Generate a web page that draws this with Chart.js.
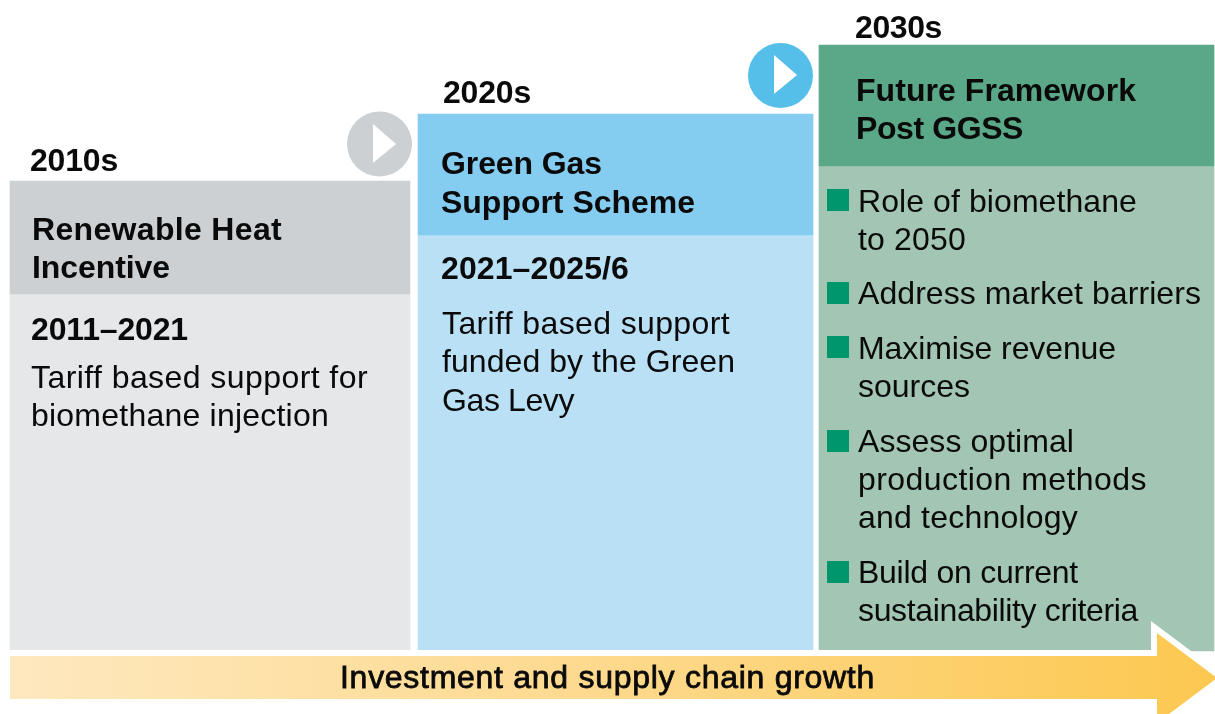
<!DOCTYPE html>
<html>
<head>
<meta charset="utf-8">
<title>Green gas support timeline</title>
<style>
  html, body { margin: 0; padding: 0; background: #fff; }
  canvas { display: block; }
</style>
<script src="https://cdn.jsdelivr.net/npm/chart.js@4/dist/chart.umd.min.js"></script>
</head>
<body>
<canvas id="myChart" width="1215" height="714"></canvas>
<script>
// the chart values, axis units run 0-1215 across and 0-714 down
var decades = ['2010s', '2020s', '2030s'];
var headings = [['Renewable Heat', 'Incentive'], ['Green Gas', 'Support Scheme'], ['Future Framework', 'Post GGSS']];
var periods = ['2011–2021', '2021–2025/6'];
var panelText = [['Tariff based support for', 'biomethane injection'], ['Tariff based support', 'funded by the Green', 'Gas Levy']];
var bullets = [['Role of biomethane', 'to 2050'], ['Address market barriers'], ['Maximise revenue', 'sources'],
  ['Assess optimal', 'production methods', 'and technology'], ['Build on current', 'sustainability criteria']];
var arrowLabel = 'Investment and supply chain growth';

var panelStart = [10, 418, 819];
var panelEnd = [410, 813, 1214];
var headerTop = [181, 114, 45];
var headerBottom = [294, 235, 166];
var panelBottom = [651, 651, 651];
var bulletY = [200, 293, 347, 441, 572];
var circleX = [379.5, 780.5];
var circleY = [144, 75.5];

var headerColors = ['#cdd0d3', '#85cdf0', '#5ba888'];
var bodyColors = ['#e6e7e9', '#bae0f6', '#a2c6b3'];
var circleColors = ['#cdd0d3', '#55bee9'];

var arrowOutline = [
  {x: 10, y: 656}, {x: 1157, y: 656}, {x: 1157, y: 633}, {x: 1217, y: 678},
  {x: 1157, y: 723}, {x: 1157, y: 699}, {x: 10, y: 699}, {x: 10, y: 656}
];
var playOne = [{x: 373, y: 124}, {x: 396, y: 144}, {x: 373, y: 163}, {x: 373, y: 124}];
var playTwo = [{x: 774, y: 55}, {x: 797, y: 75}, {x: 774, y: 94}, {x: 774, y: 55}];

var ctx = document.getElementById('myChart').getContext('2d');

var arrowGradient = ctx.createLinearGradient(10, 0, 1215, 0);
arrowGradient.addColorStop(0, '#fee8bf');
arrowGradient.addColorStop(0.5, '#fdd98c');
arrowGradient.addColorStop(1, '#fcc850');

function shape(points, color, order) {
  return {
    type: 'line', data: points, order: order, fill: 'shape', tension: 0,
    backgroundColor: color, borderWidth: 0, borderColor: color, pointRadius: 0, clip: false
  };
}

var datasets = [];

// lowest order is drawn last, so arrow and play marks come first
datasets.push(shape(arrowOutline, arrowGradient, 1));
var outline = shape(arrowOutline, '#ffffff', 2);
outline.borderWidth = 12;
outline.borderJoinStyle = 'miter';
datasets.push(outline);
datasets.push(shape(playOne, '#ffffff', 3));
datasets.push(shape(playTwo, '#ffffff', 4));

datasets.push({
  type: 'scatter', order: 5, pointStyle: 'circle', pointRadius: 32.5, pointBorderWidth: 0,
  data: circleX.map(function(x, i) { return {x: x, y: circleY[i]}; }),
  pointBackgroundColor: circleColors
});

datasets.push({
  type: 'scatter', order: 6, pointStyle: 'rect', pointRadius: 15.56, pointBorderWidth: 0,
  data: bulletY.map(function(y) { return {x: 838, y: y}; }),
  pointBackgroundColor: '#00966c'
});

decades.forEach(function(d, i) {
  var centre = (panelStart[i] + panelEnd[i]) / 2;
  var width = panelEnd[i] - panelStart[i];
  datasets.push({
    type: 'bar', label: d + ' header', order: 7, barThickness: width, backgroundColor: headerColors[i],
    data: [{x: centre, y: [headerTop[i], headerBottom[i]]}]
  });
  datasets.push({
    type: 'bar', label: d + ' body', order: 8, barThickness: width, backgroundColor: bodyColors[i],
    data: [{x: centre, y: [headerBottom[i], panelBottom[i]]}]
  });
});

// right is where the line ends in the reference, letter spacing is fitted to it
function put(c, chart, text, x, y, bold, right) {
  c.font = (bold ? 'bold ' : '') + '32px "Liberation Sans"';
  c.letterSpacing = '0px';
  var extra = (right - x - c.measureText(text).width) / text.length;
  c.letterSpacing = extra.toFixed(3) + 'px';
  c.fillText(text, chart.scales.x.getPixelForValue(x), chart.scales.y.getPixelForValue(y));
}

function putLines(c, chart, lines, x, ys, bold, rights) {
  lines.forEach(function(line, i) { put(c, chart, line, x, ys[i], bold, rights[i]); });
}

var textPlugin = {
  id: 'diagramText',
  afterDatasetsDraw: function(chart) {
    var c = chart.ctx;
    c.save();
    c.fillStyle = '#0a0a0a';
    c.textBaseline = 'alphabetic';
    c.textAlign = 'left';

    put(c, chart, decades[0], 30, 171, true, 118);
    put(c, chart, decades[1], 443, 103, true, 531);
    put(c, chart, decades[2], 855, 38, true, 942);

    putLines(c, chart, headings[0], 32, [240, 278], true, [282, 170]);
    putLines(c, chart, headings[1], 441, [174, 213], true, [602, 695]);
    putLines(c, chart, headings[2], 856, [101, 139], true, [1136, 1023]);

    put(c, chart, periods[0], 31, 340, true, 188);
    put(c, chart, periods[1], 441, 279, true, 629);

    putLines(c, chart, panelText[0], 31, [388, 426], false, [368, 329]);
    putLines(c, chart, panelText[1], 442, [334, 372, 411], false, [730, 735, 574]);

    putLines(c, chart, bullets[0], 858, [212, 250], false, [1137, 966]);
    putLines(c, chart, bullets[1], 858, [304], false, [1201]);
    putLines(c, chart, bullets[2], 858, [359, 397], false, [1116, 970]);
    putLines(c, chart, bullets[3], 858, [452, 490, 528], false, [1074, 1147, 1078]);
    putLines(c, chart, bullets[4], 858, [583, 621], false, [1078, 1138]);

    // the arrow label is a medium weight, regular with a thin stroke comes closest
    put(c, chart, arrowLabel, 340, 688, false, 875);
    c.strokeStyle = '#0a0a0a';
    c.lineWidth = 0.8;
    c.strokeText(arrowLabel, chart.scales.x.getPixelForValue(340), chart.scales.y.getPixelForValue(688));
    c.restore();
  }
};

var myChart = new Chart(ctx, {
  type: 'bar',
  data: { datasets: datasets },
  plugins: [textPlugin],
  options: {
    responsive: false,
    animation: false,
    layout: { padding: 0, autoPadding: false },
    plugins: { legend: { display: false }, tooltip: { enabled: false } },
    datasets: { bar: { grouped: false } },
    scales: {
      x: { type: 'linear', display: false, min: 0, max: 1215, offset: false },
      y: { type: 'linear', display: false, min: 0, max: 714, reverse: true }
    }
  }
});
</script>
</body>
</html>
